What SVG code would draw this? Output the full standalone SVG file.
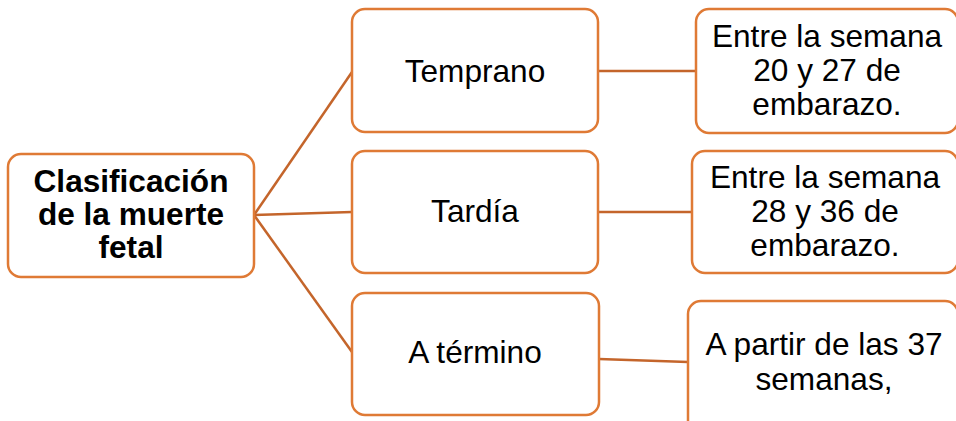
<svg xmlns="http://www.w3.org/2000/svg" width="956" height="421" viewBox="0 0 956 421">
<style>
.box{fill:#fff;stroke:#DF7A35;stroke-width:2.5}
.t{font-family:"Liberation Sans",Arial,sans-serif;font-size:31.6px;fill:#000;text-anchor:middle}
.b{font-weight:bold}
.c{stroke:#C4652B;stroke-width:2.5;fill:none}
</style>
<rect width="956" height="421" fill="#fff"/>
<g id="connectors">
<line class="c" x1="254" y1="215" x2="352" y2="72"/>
<line class="c" x1="254" y1="215" x2="352" y2="212"/>
<line class="c" x1="254" y1="215" x2="352" y2="352"/>
<line class="c" x1="598" y1="71" x2="696" y2="71"/>
<line class="c" x1="598" y1="212" x2="692" y2="212"/>
<line class="c" x1="599" y1="359" x2="688" y2="362"/>
</g>
<g id="root">
<rect class="box" x="8" y="154" width="246" height="123" rx="13"/>
<text class="t b" x="131" y="192">Clasificación</text>
<text class="t b" x="131" y="225">de la muerte</text>
<text class="t b" x="131" y="258">fetal</text>
</g>
<g id="temprano">
<rect class="box" x="352" y="9" width="246" height="123" rx="13"/>
<text class="t" x="475" y="82">Temprano</text>
</g>
<g id="tardia">
<rect class="box" x="352" y="151" width="246" height="122" rx="13"/>
<text class="t" x="475" y="222">Tardía</text>
</g>
<g id="atermino">
<rect class="box" x="352" y="293" width="247" height="122" rx="13"/>
<text class="t" x="475" y="363">A término</text>
</g>
<g id="desc1">
<rect class="box" x="696" y="9" width="262" height="124" rx="13"/>
<text class="t" x="827" y="47">Entre la semana</text>
<text class="t" x="827" y="81">20 y 27 de</text>
<text class="t" x="827" y="115">embarazo.</text>
</g>
<g id="desc2">
<rect class="box" x="692" y="151" width="266" height="122" rx="13"/>
<text class="t" x="825" y="188">Entre la semana</text>
<text class="t" x="825" y="222">28 y 36 de</text>
<text class="t" x="825" y="256">embarazo.</text>
</g>
<g id="desc3">
<rect class="box" x="688" y="301" width="270" height="140" rx="13"/>
<text class="t" x="824" y="355">A partir de las 37</text>
<text class="t" x="824" y="390">semanas,</text>
</g>
</svg>
